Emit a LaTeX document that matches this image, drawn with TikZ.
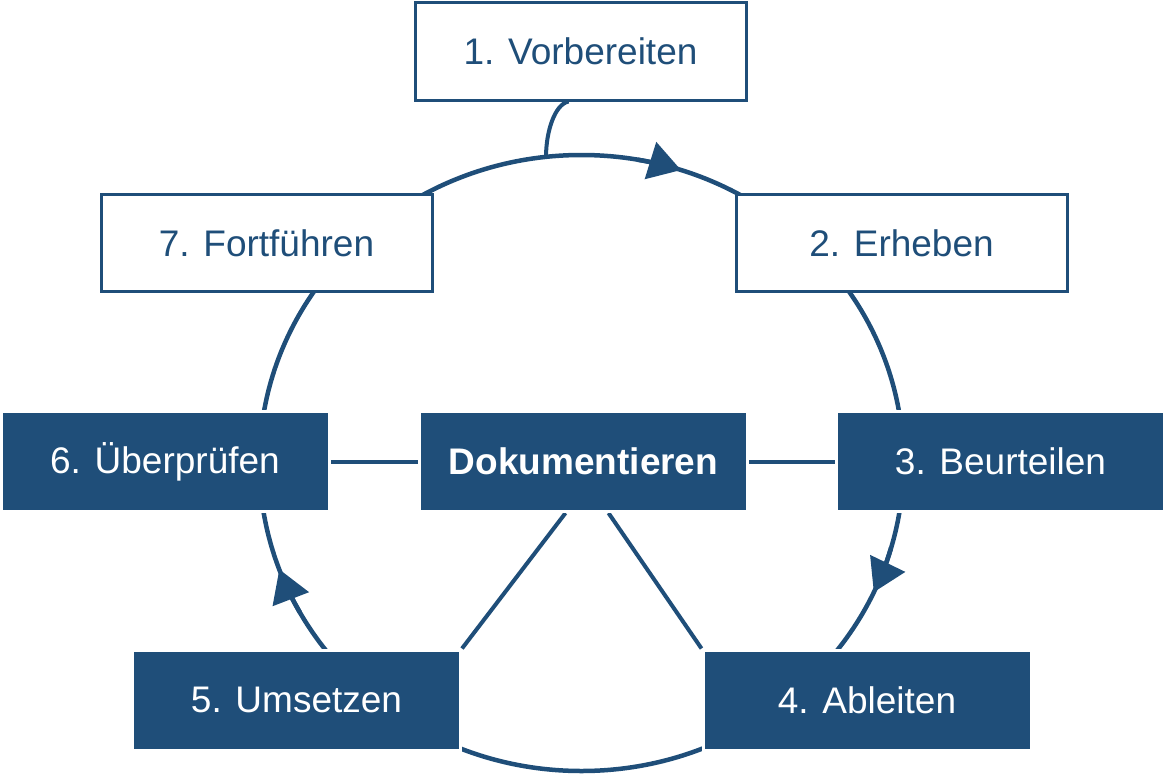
\documentclass[tikz,border=0pt]{standalone}
\usepackage{fontspec}
\setmainfont{Liberation Sans}
\usetikzlibrary{arrows.meta,backgrounds,calc}
\definecolor{dblue}{RGB}{31,78,121}
\begin{document}
\begin{tikzpicture}[x=1pt,y=1pt,
  txt/.style={font=\fontsize{37}{44}\selectfont, inner sep=0pt},
  whitebox/.style={txt, draw=dblue, line width=3pt, fill=white, text=dblue,
    minimum width=331pt, minimum height=97pt},
  bluebox/.style={txt, draw=white, line width=3pt, fill=dblue, text=white,
    minimum width=328pt, minimum height=100pt},
  conn/.style={draw=dblue, line width=4pt},
  ring/.style={draw=dblue, line width=4.5pt},
  ringarrow/.style={ring, -{Triangle[length=32pt,width=38pt]}}]
\useasboundingbox (0,0) rectangle (1166,-776);
\coordinate (c) at (581.5,-463);
% boxes
\node[whitebox] (b1) at (580.5,-51.5) {1. Vorbereiten};
\node[whitebox] (b7) at (266.5,-243) {7. Fortführen};
\node[whitebox] (b2) at (901.5,-243) {2. Erheben};
\node[bluebox] (b6) at (165,-461.5) {6. Überprüfen};
\node[bluebox, font=\fontsize{37}{44}\selectfont\bfseries] (dok) at (583.5,-461.5) {Dokumentieren};
\node[bluebox] (b3) at (1000.5,-461.5) {3. Beurteilen};
\node[bluebox] (b5) at (296.5,-700) {5. Umsetzen};
\node[bluebox] (b4) at (867,-700) {4. Ableiten};
\coordinate (p1) at (546,-157);
\begin{scope}[on background layer]
  \draw[ring] (c) ellipse [x radius=322pt, y radius=308pt];
  \draw[ringarrow] (c) ++(80:322pt and 308pt) arc[start angle=80, end angle=72, x radius=322pt, y radius=308pt];
  \draw[ringarrow] (c) ++(-16:322pt and 308pt) arc[start angle=-16, end angle=-24.8, x radius=322pt, y radius=308pt];
  \draw[ringarrow] (c) ++(209:322pt and 308pt) arc[start angle=209, end angle=200.2, x radius=322pt, y radius=308pt];
  \draw[conn] ([xshift=-12pt]b1.south) .. controls +(-14,-3) and +(0,25) .. (p1);
  \draw[conn] (b6.east) -- (dok.west);
  \draw[conn] (dok.east) -- (b3.west);
  \draw[conn] ([xshift=-18pt]dok.south) -- (b5.north east);
  \draw[conn] ([xshift=25pt]dok.south) -- (b4.north west);
\end{scope}
\end{tikzpicture}
\end{document}
